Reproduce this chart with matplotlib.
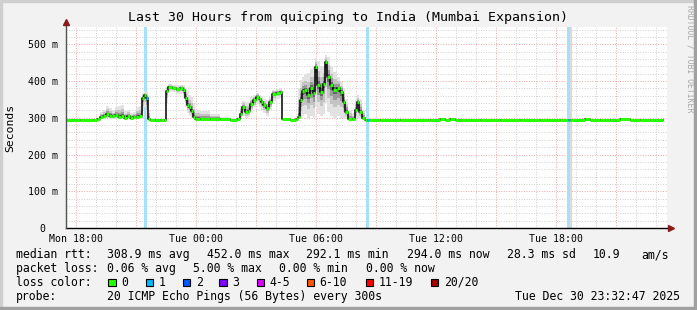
import matplotlib
matplotlib.use('Agg')
import matplotlib.pyplot as plt
from matplotlib.patches import Rectangle
import numpy as np

W, H = 697, 310
MONO = 'DejaVu Sans Mono'

# ---------------- data ----------------
title = "Last 30 Hours from quicping to India (Mumbai Expansion)"

# hours since Monday 00:00
time_h = [17.50, 18.20, 18.85, 19.05, 19.20, 19.35, 19.50, 19.65, 19.80, 19.95,
          20.10, 20.25, 20.40, 20.55, 20.70, 20.85, 21.00, 21.15, 21.30, 21.40,
          21.50, 21.60, 21.70, 21.95, 22.20, 22.40, 22.50, 22.60, 22.80, 23.00,
          23.20, 23.35, 23.45, 23.55, 23.65, 23.75, 23.85, 23.95, 24.20, 24.70,
          25.20, 25.70, 26.05, 26.20, 26.30, 26.45, 26.60, 26.70, 26.85, 27.00,
          27.15, 27.25, 27.35, 27.50, 27.65, 27.80, 28.00, 28.20, 28.30, 28.70,
          29.00, 29.10, 29.20, 29.30, 29.40, 29.55, 29.70, 29.85, 29.95, 30.05,
          30.20, 30.35, 30.45, 30.55, 30.70, 30.85, 31.05, 31.20, 31.35, 31.45,
          31.60, 31.80, 31.95, 32.05, 32.15, 32.30, 32.45, 32.55, 32.65, 33.20,
          34.20, 35.70, 36.20, 36.45, 36.70, 36.95, 37.20, 38.20, 39.20, 40.20,
          41.20, 42.20, 42.60, 42.70, 43.45, 43.70, 44.20, 44.70, 45.20, 45.70,
          46.20, 46.70]
end_h = 47.35

median_ms = [293, 293, 295, 297, 302, 305, 310, 306, 304, 308,
             303, 306, 300, 305, 299, 303, 302, 304, 355, 362,
             353, 296, 294, 293, 295, 294, 372, 384, 382, 378,
             380, 376, 355, 334, 328, 318, 302, 297, 296, 297,
             296, 295, 296, 310, 330, 315, 318, 338, 348, 357,
             350, 343, 334, 326, 343, 366, 368, 370, 296, 295,
             296, 301, 348, 372, 375, 361, 380, 367, 438, 389,
             370, 393, 452, 411, 389, 375, 380, 370, 343, 316,
             296, 296, 320, 343, 316, 299, 294, 293, 294, 294,
             294, 294, 296, 294, 296, 295, 294, 294, 293, 294,
             293, 294, 294, 295, 296, 294, 295, 294, 296, 294,
             295, 294]

smoke_lo_ms = [292, 292, 293, 294, 296, 297, 298, 297, 296, 297,
               296, 297, 295, 296, 295, 296, 296, 297, 318, 330,
               300, 293, 292, 292, 293, 292, 340, 372, 370, 365,
               366, 355, 330, 312, 305, 300, 296, 294, 294, 295,
               294, 294, 294, 298, 305, 300, 302, 315, 328, 338,
               330, 322, 312, 305, 320, 345, 352, 355, 294, 294,
               294, 296, 298, 305, 310, 300, 305, 300, 330, 310,
               305, 310, 340, 315, 305, 300, 305, 300, 298, 296,
               293, 293, 296, 300, 296, 294, 293, 292, 293, 293,
               293, 293, 294, 293, 294, 293, 293, 293, 292, 293,
               292, 293, 293, 293, 294, 293, 293, 293, 294, 293,
               293, 293]

smoke_hi_ms = [294, 295, 297, 300, 315, 322, 332, 326, 320, 328,
               332, 336, 318, 322, 312, 316, 330, 333, 368, 372,
               370, 322, 300, 296, 298, 297, 386, 392, 390, 388,
               389, 390, 382, 372, 362, 356, 340, 322, 318, 310,
               302, 299, 302, 332, 346, 342, 342, 356, 362, 368,
               362, 358, 352, 347, 357, 376, 378, 381, 300, 297,
               298, 382, 402, 412, 418, 422, 432, 440, 462, 455,
               440, 442, 470, 465, 440, 425, 412, 398, 382, 352,
               322, 312, 348, 362, 352, 322, 298, 297, 296, 296,
               296, 296, 298, 296, 298, 297, 296, 296, 295, 296,
               295, 296, 296, 297, 298, 296, 297, 296, 298, 296,
               297, 296]

loss_pings = [0] * len(time_h)
loss_pings[20] = 1    # Mon 21:30
loss_pings[87] = 1    # Tue 08:33
loss_pings[102] = 1   # Tue 18:36

# loss background bands (start_h, end_h)
loss_band_spans = [(21.40, 21.535), (32.50, 32.635), (42.565, 42.70)]
unknown_band_spans = [(42.70, 42.80)]

xtick_pos = [18, 24, 30, 36, 42]
xtick_labels = ["Mon 18:00", "Tue 00:00", "Tue 06:00", "Tue 12:00", "Tue 18:00"]
ytick_pos = [0, 100, 200, 300, 400, 500]
ytick_labels = ["0  ", "100 m", "200 m", "300 m", "400 m", "500 m"]

loss_legend_labels = ["0", "1", "2", "3", "4-5", "6-10", "11-19", "20/20"]
loss_legend_colors = ["#26ff00", "#00b8ff", "#0059ff", "#7e00ff",
                      "#dd00ff", "#ff5500", "#ff0000", "#a10000"]

row_median = ["median rtt:", "308.9 ms avg", "452.0 ms max", "292.1 ms min",
              "294.0 ms now", "28.3 ms sd", "10.9", "am/s"]
row_loss = ["packet loss:", "0.06 % avg", "5.00 % max", "0.00 % min", "0.00 % now"]
row_probe = ["probe:", "20 ICMP Echo Pings (56 Bytes) every 300s"]
timestamp = "Tue Dec 30 23:32:47 2025"

# ---------------- layout ----------------
X0, X1, Y0, Y1 = 66, 667, 27, 228
XLIM = (17.5, 47.55)
YLIM = (0, 547)

fig = plt.figure(figsize=(W / 100, H / 100), dpi=100)
fig.patch.set_facecolor('#f2f2f2')
ax = fig.add_axes([X0 / W, 1 - Y1 / H, (X1 - X0) / W, (Y1 - Y0) / H])
ax.set_facecolor('white')
ax.set_xlim(*XLIM)
ax.set_ylim(*YLIM)
for s in ax.spines.values():
    s.set_visible(False)


def fx(x):
    return x / W


def fy(y):
    return 1 - y / H


# border shade
fig.patches.append(Rectangle((0, 1 - 2 / H), 1, 2 / H, transform=fig.transFigure,
                             color='#cfcfcf', zorder=0))
fig.patches.append(Rectangle((0, 0), 2 / W, 1, transform=fig.transFigure,
                             color='#cfcfcf', zorder=0))
fig.patches.append(Rectangle((1 - 3 / W, 0), 3 / W, 1, transform=fig.transFigure,
                             color='#a0a0a0', zorder=0))
fig.patches.append(Rectangle((0, 0), 1, 3 / H, transform=fig.transFigure,
                             color='#a0a0a0', zorder=0))

# grid
minor_c = '#cfcfcf'
major_c = '#eca3a3'
for h in range(18, 48):
    c = major_c if h % 3 == 0 else minor_c
    ax.axvline(h, color=c, lw=0.7, ls=(0, (1, 1.6)), zorder=0.5)
for v in range(20, 547, 20):
    c = major_c if v % 100 == 0 else minor_c
    ax.axhline(v, color=c, lw=0.7, ls=(0, (1, 1.6)), zorder=0.5)

# loss bands
for a, b in loss_band_spans:
    ax.axvspan(a, b, color='#a6e1f7', lw=0, zorder=1)
for a, b in unknown_band_spans:
    ax.axvspan(a, b, color='#dadada', lw=0, zorder=1)

# smoke
t = np.array(time_h + [end_h])
med = np.array(median_ms + [median_ms[-1]], dtype=float)
lo = np.array(smoke_lo_ms + [smoke_lo_ms[-1]], dtype=float)
hi = np.array(smoke_hi_ms + [smoke_hi_ms[-1]], dtype=float)
for frac, col in [(1.0, '#e2e2e2'), (0.6, '#c4c4c4'), (0.35, '#9a9a9a'), (0.15, '#666666')]:
    ax.fill_between(t, med - (med - lo) * frac, med + (hi - med) * frac,
                    step='post', color=col, lw=0, zorder=2)

# median
ax.step(t, med, where='post', color='black', lw=1.1, zorder=3)


def loss_color(n):
    if n == 0:
        return loss_legend_colors[0]
    if n <= 3:
        return loss_legend_colors[n]
    if n <= 5:
        return loss_legend_colors[4]
    if n <= 10:
        return loss_legend_colors[5]
    if n <= 19:
        return loss_legend_colors[6]
    return loss_legend_colors[7]


ax.hlines(med[:-1], t[:-1], t[1:], colors=[loss_color(n) for n in loss_pings],
          lw=2.2, zorder=4)

# axes lines & arrows
ax.plot([0, 1.006], [0, 0], transform=ax.transAxes, color='black', lw=1.0,
        clip_on=False, zorder=5)
ax.plot([0, 0], [0, 1.02], transform=ax.transAxes, color='#505050', lw=1.0,
        clip_on=False, zorder=5)
ax.plot([1.006], [0], marker='>', ms=5, color='#8b1a1a', transform=ax.transAxes,
        clip_on=False, zorder=6)
ax.plot([0], [1.025], marker='^', ms=5, color='#8b1a1a', transform=ax.transAxes,
        clip_on=False, zorder=6)

# ticks
ax.set_xticks(xtick_pos)
ax.set_xticklabels(xtick_labels, fontfamily=MONO, fontsize=7.1)
ax.set_yticks(ytick_pos)
ax.set_yticklabels(ytick_labels, fontfamily=MONO, fontsize=7.1)
ax.tick_params(axis='both', length=0)
ax.tick_params(axis='x', pad=4)
ax.tick_params(axis='y', pad=6)

# title / labels
fig.text(fx(348), fy(18), title, fontfamily=MONO, fontsize=9.5,
         ha='center', va='center')
fig.text(fx(10), fy(128), "Seconds", fontfamily=MONO, fontsize=8.2,
         rotation=90, ha='center', va='center')
fig.text(fx(690), fy(5), "RRDTOOL / TOBI OETIKER", fontfamily=MONO, fontsize=5.9,
         rotation=-90, ha='center', va='top', color='#a8a8a8')

LFS = 8.3
median_x = [16, 107.3, 206.7, 305.5, 407.3, 506.7, 592.3, 641.7]
for x, s in zip(median_x, row_median):
    fig.text(fx(x), fy(254.5), s, fontfamily=MONO, fontsize=LFS, va='center')
loss_x = [16, 107.3, 193.0, 279.3, 365.7]
for x, s in zip(loss_x, row_loss):
    fig.text(fx(x), fy(268.5), s, fontfamily=MONO, fontsize=LFS, va='center')

fig.text(fx(16), fy(282.3), "loss color:", fontfamily=MONO, fontsize=LFS, va='center')
box_x = [108.3, 145.7, 182.7, 219.3, 256.7, 306.7, 365.7, 430.7]
for x, lab, col in zip(box_x, loss_legend_labels, loss_legend_colors):
    fig.patches.append(Rectangle((fx(x), fy(286)), 7.4 / W, 7.4 / H,
                                 transform=fig.transFigure, facecolor=col,
                                 edgecolor='black', lw=0.8))
    fig.text(fx(x + 13), fy(282.3), lab, fontfamily=MONO, fontsize=LFS, va='center')

probe_x = [16, 107.3]
for x, s in zip(probe_x, row_probe):
    fig.text(fx(x), fy(296.3), s, fontfamily=MONO, fontsize=LFS, va='center')
fig.text(fx(680), fy(296.3), timestamp, fontfamily=MONO, fontsize=LFS,
         va='center', ha='right')

fig.savefig('out.png', dpi=100, facecolor=fig.get_facecolor())
